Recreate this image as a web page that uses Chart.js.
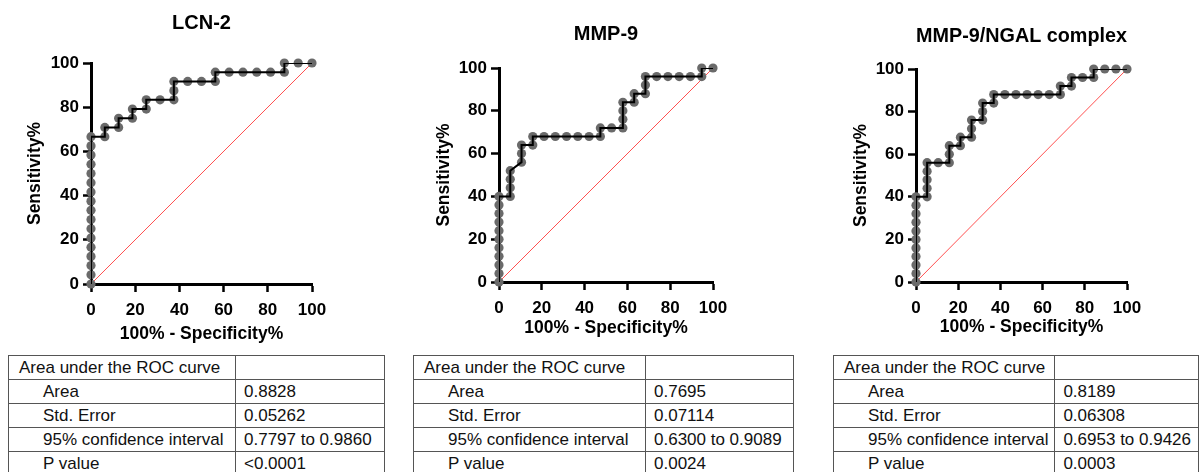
<!DOCTYPE html>
<html>
<head>
<meta charset="utf-8">
<script src="https://cdn.jsdelivr.net/npm/chart.js@4/dist/chart.umd.min.js"></script>
<style>
    body { margin: 0; background: #fff; width: 1199px; height: 472px; overflow: hidden; position: relative; }
    canvas { position: absolute; top: 0; }
    table { position: absolute; top: 355px; border-collapse: collapse; font-family: 'Liberation Sans', Arial, sans-serif; font-size: 17px; color: #111; table-layout: fixed; }
    td { border: 1px solid #555; height: 23px; padding: 0 0 0 8px; white-space: nowrap; overflow: hidden; }
    td.head { padding-left: 10px; }
    td.sub { padding-left: 34px; }
</style>
</head>
<body>
<canvas id="lcnChart" width="400" height="345" style="left:0px"></canvas>
<canvas id="mmpChart" width="390" height="345" style="left:410px"></canvas>
<canvas id="complexChart" width="369" height="345" style="left:830px"></canvas>
<div id="tables"></div>

<script>
// ROC curve points (100% - Specificity%, Sensitivity%)
var lcnFpr = [0, 0, 0, 0, 0, 0, 0, 0, 0, 0, 0, 0, 0, 0, 0, 0, 0,
    6.25, 6.25, 12.5, 12.5, 18.75, 18.75, 25, 25, 31.25, 37.5, 37.5, 37.5,
    43.75, 50, 56.25, 56.25, 62.5, 68.75, 75, 81.25, 87.5, 87.5, 93.75, 100];
var lcnTpr = [0, 4.17, 8.33, 12.5, 16.67, 20.83, 25, 29.17, 33.33, 37.5, 41.67, 45.83, 50, 54.17, 58.33, 62.5, 66.67,
    66.67, 70.83, 70.83, 75, 75, 79.17, 79.17, 83.33, 83.33, 83.33, 87.5, 91.67,
    91.67, 91.67, 91.67, 95.83, 95.83, 95.83, 95.83, 95.83, 95.83, 100, 100, 100];

var mmpFpr = [0, 0, 0, 0, 0, 0, 0, 0, 0, 0, 0,
    5.26, 5.26, 5.26, 5.26, 10.53, 10.53, 10.53, 15.79, 15.79, 21.05, 26.32, 31.58, 36.84, 42.11,
    47.37, 47.37, 52.63, 57.89, 57.89, 57.89, 57.89, 63.16, 63.16, 68.42, 68.42, 68.42,
    73.68, 78.95, 84.21, 89.47, 94.74, 94.74, 100];
var mmpTpr = [0, 4, 8, 12, 16, 20, 24, 28, 32, 36, 40,
    40, 44, 48, 52, 56, 60, 64, 64, 68, 68, 68, 68, 68, 68,
    68, 72, 72, 72, 76, 80, 84, 84, 88, 88, 92, 96,
    96, 96, 96, 96, 96, 100, 100];

var complexFpr = [0, 0, 0, 0, 0, 0, 0, 0, 0, 0, 0,
    5.26, 5.26, 5.26, 5.26, 5.26, 10.53, 15.79, 15.79, 15.79, 21.05, 21.05, 26.32, 26.32, 26.32,
    31.58, 31.58, 31.58, 36.84, 36.84, 42.11, 47.37, 52.63, 57.89, 63.16, 68.42, 68.42,
    73.68, 73.68, 78.95, 84.21, 84.21, 89.47, 94.74, 100];
var complexTpr = [0, 4, 8, 12, 16, 20, 24, 28, 32, 36, 40,
    40, 44, 48, 52, 56, 56, 56, 60, 64, 64, 68, 68, 72, 76,
    76, 80, 84, 84, 88, 88, 88, 88, 88, 88, 88, 92,
    92, 96, 96, 96, 100, 100, 100, 100];

var chanceLine = [0, 100];
var chartTitles = ['LCN-2', 'MMP-9', 'MMP-9/NGAL complex'];
var xAxisTitle = '100% - Specificity%';
var yAxisTitle = 'Sensitivity%';

// tables under each curve
var statLabels = ['Area under the ROC curve', 'Area', 'Std. Error', '95% confidence interval', 'P value'];
var lcnStats = ['', '0.8828', '0.05262', '0.7797 to 0.9860', '<0.0001'];
var mmpStats = ['', '0.7695', '0.07114', '0.6300 to 0.9089', '0.0024'];
var complexStats = ['', '0.8189', '0.06308', '0.6953 to 0.9426', '0.0003'];

var FONT = "'Liberation Sans', Arial, sans-serif";
Chart.defaults.font.family = FONT;
Chart.defaults.color = '#000';

function toPoints(xs, ys) {
    return xs.map(function(x, i) { return {x: x, y: ys[i]}; });
}

function makeAxis(titleText, size, titlePad, isY) {
    return {
        type: 'linear', min: 0, max: 100, z: 1,
        ticks: { stepSize: 20, padding: isY ? 4 : 8, font: { size: 17, weight: 'bold' }, color: '#000' },
        grid: { drawOnChartArea: false, drawTicks: true, tickLength: 8, tickWidth: 2.5, tickColor: '#000' },
        border: { display: true, width: 3, color: '#000' },
        title: {
            display: true, text: titleText, color: '#000',
            font: { size: 17.5, weight: 'bold' },
            padding: isY ? { top: titlePad, bottom: 0 } : { top: 0, bottom: titlePad }
        },
        afterFit: function(scale) {
            if (isY) scale.width = size; else scale.height = size;
        }
    };
}

function makeChart(id, title, xs, ys, cfg) {
    var ctx = document.getElementById(id);
    return new Chart(ctx, {
        type: 'scatter',
        data: {
            datasets: [{
                data: toPoints(xs, ys),
                showLine: true,
                borderColor: '#000',
                borderWidth: 2,
                pointRadius: 0,
                order: 1
            }, {
                data: toPoints(xs, ys),
                showLine: false,
                pointRadius: 4.6,
                pointBackgroundColor: '#6a6a6a',
                pointBorderWidth: 0,
                clip: false,
                order: 2
            }, {
                data: toPoints(chanceLine, chanceLine),
                showLine: true,
                borderColor: '#ff5050',
                borderWidth: 1,
                pointRadius: 0,
                order: 3
            }]
        },
        options: {
            responsive: false,
            animation: false,
            layout: { padding: { left: 0, right: cfg.padRight, top: 0, bottom: 0 } },
            plugins: {
                legend: { display: false },
                tooltip: { enabled: false },
                title: {
                    display: true, text: title, fullSize: false, color: '#000',
                    font: { size: 20, weight: 'bold' },
                    padding: { top: cfg.titleTop, bottom: cfg.titleBottom }
                }
            },
            scales: {
                x: makeAxis(xAxisTitle, cfg.xHeight, cfg.xTitlePad, false),
                y: makeAxis(yAxisTitle, cfg.yWidth, cfg.yTitlePad, true)
            }
        }
    });
}

makeChart('lcnChart', chartTitles[0], lcnFpr, lcnTpr,
    { padRight: 88, yWidth: 91, xHeight: 61, titleTop: 11.5, titleBottom: 27.5, yTitlePad: 24.8, xTitlePad: 0.8 });
makeChart('mmpChart', chartTitles[1], mmpFpr, mmpTpr,
    { padRight: 87, yWidth: 89, xHeight: 63, titleTop: 22, titleBottom: 22, yTitlePad: 23.8, xTitlePad: 6.8 });
makeChart('complexChart', chartTitles[2], complexFpr, complexTpr,
    { padRight: 72, yWidth: 86, xHeight: 63, titleTop: 24, titleBottom: 21, yTitlePad: 20.8, xTitlePad: 7.8 });

function buildTable(stats, left, w1, w2) {
    var html = '<table style="left:' + left + 'px"><colgroup><col style="width:' + w1 + 'px"><col style="width:' + w2 + 'px"></colgroup>';
    for (var i = 0; i < statLabels.length; i++) {
        html += '<tr><td class="' + (i === 0 ? 'head' : 'sub') + '">' + statLabels[i] + '</td><td>' +
            stats[i].replace('<', '&lt;') + '</td></tr>';
    }
    return html + '</table>';
}

document.getElementById('tables').innerHTML =
    buildTable(lcnStats, 8, 227, 149) +
    buildTable(mmpStats, 413, 232, 148) +
    buildTable(complexStats, 833, 226, 149);
</script>
</body>
</html>
